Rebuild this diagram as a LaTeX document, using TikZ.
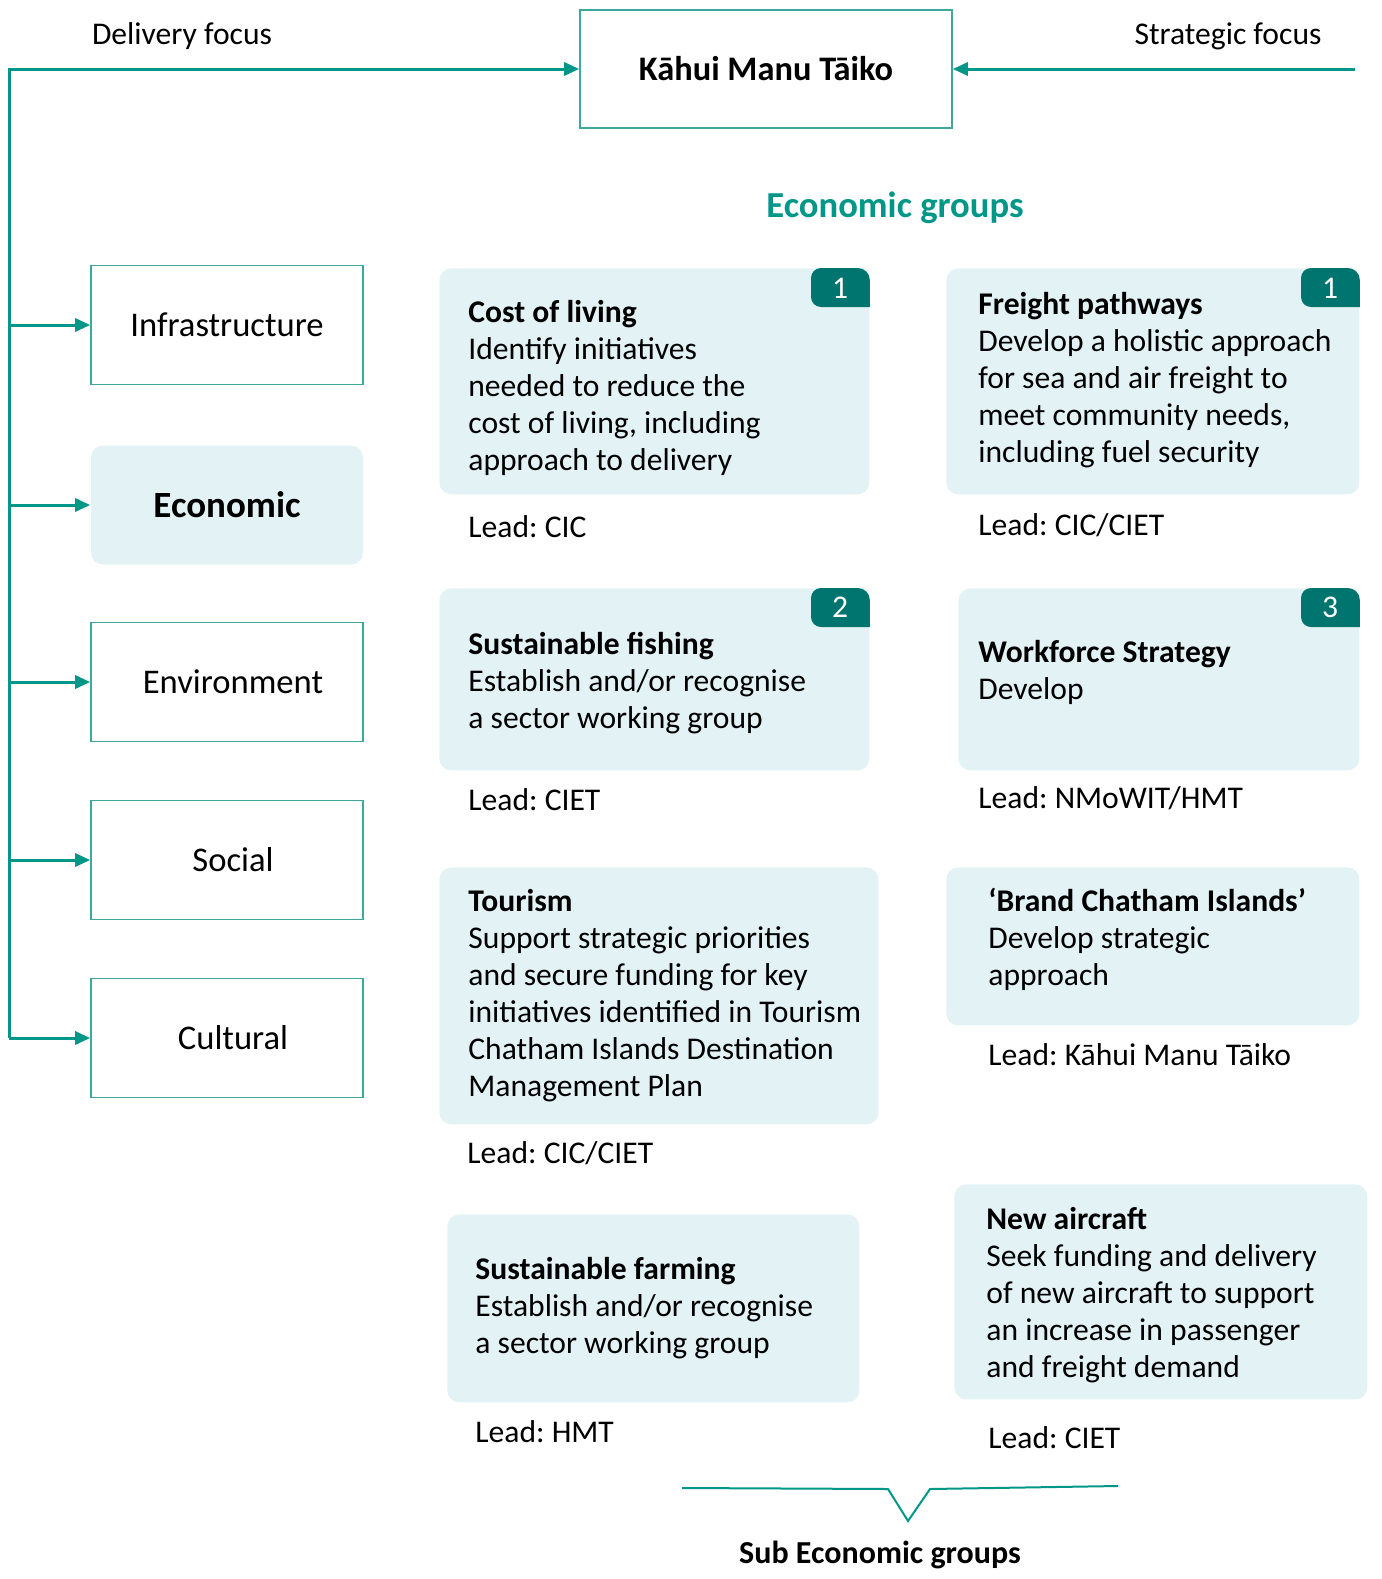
\documentclass[tikz,border=0pt]{standalone}
\usepackage{fontspec}
\setmainfont{Carlito}
\usepackage{xcolor}
\definecolor{accent}{RGB}{0,150,136}
\definecolor{deep}{RGB}{0,117,111}
\definecolor{pale}{RGB}{227,242,245}
\definecolor{frame}{RGB}{60,168,158}
\usetikzlibrary{arrows.meta}
\frenchspacing

\begin{document}
\begin{tikzpicture}[x=0.5pt,y=-0.5pt,
  every node/.style={font=\fontsize{15.8}{18.5}\selectfont, inner sep=0pt},
  framebox/.style={draw=frame, line width=0.8pt, minimum width=136pt, minimum height=59.5pt, font=\fontsize{17.3}{20}\selectfont},
  card/.style={fill=pale, rounded corners=6pt, anchor=north west},
  link/.style={draw=accent, line width=1.5pt, -{Triangle[length=7.5pt,width=6.5pt]}},
  body/.style={align=left, anchor=west},
  lead/.style={anchor=west},
  num/.style={text=white},
  heading/.style={font=\fontsize{16}{19}\selectfont\bfseries}]

\useasboundingbox (0,0) rectangle (1381,1579);

% Top
  \node[framebox, minimum width=186pt, minimum height=59pt, heading, font=\fontsize{17.2}{20}\selectfont\bfseries] (kahui) at (766,69) {Kāhui Manu Tāiko};
  \node (delivery) at (182,36) {Delivery focus};
  \node (strategic) at (1228,36) {Strategic focus};
  \coordinate (spine) at (9,69);
  \coordinate (strat) at (1355,69);

% Focus areas
  \node[framebox] (infra) at (227,325) {Infrastructure\hspace{8pt}};
  \node[framebox, draw=none, fill=pale, rounded corners=6pt, font=\fontsize{18.5}{20}\selectfont\bfseries] (econ) at (227,505) {Economic};
  \node[framebox] (envir) at (227,682) {\hspace{6pt}Environment};
  \node[framebox] (social) at (227,860) {\hspace{6pt}Social};
  \node[framebox] (cultural) at (227,1038) {\hspace{6pt}Cultural};

  \draw[link] (spine |- cultural.west) -- (spine) -- (kahui.west);
  \foreach \area in {infra,econ,envir,social,cultural}
    \draw[link] (spine |- \area.west) -- (\area.west);
  \draw[link] (strat) -- (kahui.east);

  \node[font=\fontsize{18.3}{20}\selectfont\bfseries, text=accent] (groups) at (895,208) {Economic groups};

% Cost of living
  \node[card, minimum width=215pt, minimum height=113pt] (costliving) at (439,268) {};
    \begin{scope}
      \clip[rounded corners=6pt] (costliving.north west) rectangle (costliving.south east);
      \fill[deep, rounded corners=5pt] (811,268) rectangle (900,307);
    \end{scope}
    \node[num] (costnum) at (840,288) {1};
    \node[body] (costtext) at (468,388) {\textbf{Cost of living}\\Identify initiatives\\needed to reduce the\\cost of living, including\\approach to delivery};
    \node[lead] (costlead) at (468,527) {Lead: CIC};

% Freight pathways
  \node[card, minimum width=206.5pt, minimum height=113pt] (freight) at (946,268) {};
    \begin{scope}
      \clip[rounded corners=6pt] (freight.north west) rectangle (freight.south east);
      \fill[deep, rounded corners=5pt] (1301,268) rectangle (1390,307);
    \end{scope}
    \node[num] (freightnum) at (1330,288) {1};
    \node[body] (freighttext) at (978,380) {\textbf{Freight pathways}\\Develop a holistic approach\\for sea and air freight to\\meet community needs,\\including fuel security};
    \node[lead] (freightlead) at (978,525) {Lead: CIC/CIET};

% Sustainable fishing
  \node[card, minimum width=215pt, minimum height=91pt] (fishing) at (439,588) {};
    \begin{scope}
      \clip[rounded corners=6pt] (fishing.north west) rectangle (fishing.south east);
      \fill[deep, rounded corners=5pt] (811,588) rectangle (900,627);
    \end{scope}
    \node[num] (fishingnum) at (840,607) {2};
    \node[body] (fishingtext) at (468,683.5) {\textbf{Sustainable fishing}\\Establish and/or recognise\\a sector working group};
    \node[lead] (fishinglead) at (468,800) {Lead: CIET};

% Workforce Strategy
  \node[card, minimum width=200.5pt, minimum height=91pt] (workforce) at (958,588) {};
    \begin{scope}
      \clip[rounded corners=6pt] (workforce.north west) rectangle (workforce.south east);
      \fill[deep, rounded corners=5pt] (1301,588) rectangle (1390,627);
    \end{scope}
    \node[num] (workforcenum) at (1330,607) {3};
    \node[body] (workforcetext) at (978,672.5) {\textbf{Workforce Strategy}\\Develop};
    \node[lead] (workforcelead) at (978,798) {Lead: NMoWIT/HMT};

% Tourism
  \node[card, minimum width=219.5pt, minimum height=128.5pt] (tourism) at (439,867) {};
    \node[body] (tourismtext) at (468,996) {\textbf{Tourism}\\Support strategic priorities\\and secure funding for key\\initiatives identified in Tourism\\Chatham Islands Destination\\Management Plan};
    \node[lead] (tourismlead) at (467,1153) {Lead: CIC/CIET};

% Brand Chatham Islands
  \node[card, minimum width=206.5pt, minimum height=79pt] (brand) at (946,867) {};
    \node[body] (brandtext) at (988,939.5) {\textbf{‘Brand Chatham Islands’}\\Develop strategic\\approach};
    \node[lead] (brandlead) at (988,1055) {Lead: Kāhui Manu Tāiko};

% Sustainable farming
  \node[card, minimum width=206pt, minimum height=94pt] (farming) at (447,1214) {};
    \node[body] (farmingtext) at (475,1308) {\textbf{Sustainable farming}\\Establish and/or recognise\\a sector working group};
    \node[lead] (farminglead) at (475,1432) {Lead: HMT};

% New aircraft
  \node[card, minimum width=206.5pt, minimum height=107.5pt] (aircraft) at (954,1184) {};
    \node[body] (aircrafttext) at (986,1295.5) {\textbf{New aircraft}\\Seek funding and delivery\\of new aircraft to support\\an increase in passenger\\and freight demand};
    \node[lead] (aircraftlead) at (988,1438) {Lead: CIET};

% Sub groups
  \coordinate (braceleft) at (682,1488);
  \coordinate (bracetip) at (908,1521);
  \coordinate (braceright) at (1118,1486);
  \draw[accent, line width=1pt] (braceleft) -- (888,1489) -- (bracetip) -- (930,1489) -- (braceright);
  \node[heading] (subgroups) at (880,1555) {Sub Economic groups};

\end{tikzpicture}
\end{document}
